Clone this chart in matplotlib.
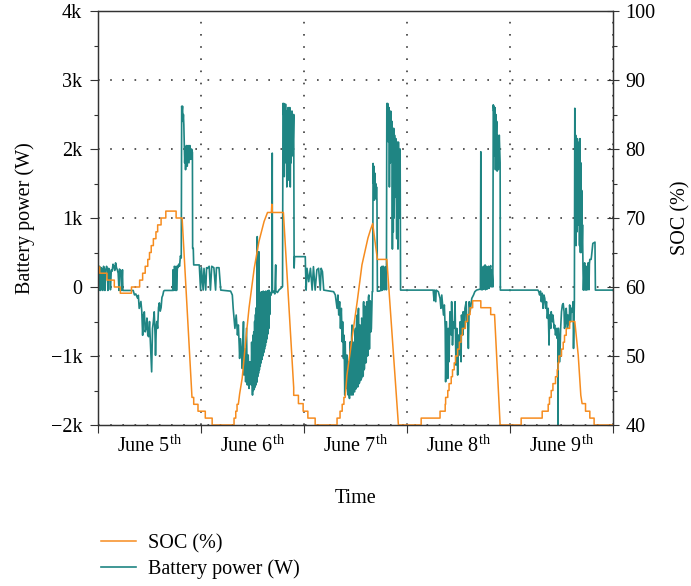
import numpy as np
import matplotlib.pyplot as plt
from matplotlib.ticker import FixedLocator, MultipleLocator, FuncFormatter, NullFormatter

plt.rcParams['font.family'] = ['Liberation Serif', 'DejaVu Serif']
plt.rcParams['mathtext.fontset'] = 'custom'
plt.rcParams['mathtext.rm'] = 'Liberation Serif'
plt.rcParams['font.size'] = 14.5

# time in hours from June 5th 00:00
day_edges = [0, 24, 48, 72, 96, 120]
day_labels = ['June 5$^{\\mathrm{th}}$', 'June 6$^{\\mathrm{th}}$', 'June 7$^{\\mathrm{th}}$',
              'June 8$^{\\mathrm{th}}$', 'June 9$^{\\mathrm{th}}$']

# battery power (h, W)
batt_day1 = [
    (0.0, 250), (0.2, -50), (0.35, 300), (0.5, 250), (0.6, -50), (0.8, 280), (1.0, 230), (1.1, -50),
    (1.3, 300), (1.5, 260), (1.6, -50), (1.8, 240), (2.0, 300), (2.2, 250), (2.3, -50), (2.5, 270),
    (2.7, 220), (2.9, -40), (3.1, 250), (3.3, 230), (3.5, 330), (3.7, 300), (3.9, 240), (4.1, 350),
    (4.3, 280), (4.5, 250), (4.7, 200), (4.9, -50), (5.0, 260), (5.3, 230), (5.5, -50), (5.7, 250),
    (5.8, -50), (8.2, -50), (8.5, -115), (8.8, -100), (9.2, -160), (9.4, -120), (9.6, -310),
    (10.0, -210), (10.2, -350), (10.4, -700), (10.6, -400), (10.8, -360), (11.0, -650), (11.2, -600),
    (11.4, -450), (11.6, -700), (11.8, -720), (12.0, -500), (12.2, -800), (12.5, -1230), (12.7, -600),
    (12.9, -500), (13.1, -360), (13.3, -700), (13.4, -990), (13.6, -550), (13.7, -500), (13.9, -600),
    (14.1, -300), (14.3, -230), (14.5, -350), (14.7, -300), (14.9, -150), (15.1, -120), (15.3, -60),
    (15.5, -50), (17.4, -50), (17.5, 250), (17.6, -50), (17.8, 300), (17.9, 280), (18.0, -50),
    (18.2, 300), (18.3, -50), (18.5, 300), (18.6, 280), (18.8, 330), (19.0, 300), (19.2, 450),
    (19.4, 420), (19.5, 2620), (19.6, 2550), (19.7, 2620), (19.8, 2400), (19.9, 2500), (20.0, 2350),
    (20.1, 2100), (20.2, 1800), (20.3, 2000), (20.4, 1700), (20.6, 2050), (20.8, 1750), (21.0, 2050),
    (21.2, 1800), (21.4, 2050), (21.6, 1850), (21.8, 2000), (22.0, 1950), (22.05, 560), (22.2, 560),
    (22.3, 320), (23.6, 320),
]
batt_day2 = [
    (23.9, -45), (24.1, 280), (24.5, -45), (24.7, 270), (25.1, -45), (25.3, 280), (25.5, 270),
    (25.9, 300), (26.2, -45), (26.5, 300), (27.0, 280), (27.4, -45), (27.6, 280), (28.2, 280),
    (28.6, -45), (30.9, -60), (31.3, -116), (31.5, -309), (31.7, -450), (31.9, -600), (32.2, -406),
    (32.5, -696), (32.7, -550), (32.9, -841), (33.0, -1035), (33.2, -750), (33.5, -986), (33.6, -1180),
    (33.9, -503), (34.0, -1276), (34.3, -900), (34.4, -1373), (34.6, -600), (34.8, -1420), (35.0, -986),
    (35.2, -1470), (35.4, -1083), (35.7, -1420), (35.8, -800), (36.0, -1566), (36.1, -700),
    (36.2, -1500), (36.3, -650), (36.4, -1480), (36.5, -500), (36.6, -1450), (36.7, -400),
    (36.8, -1420), (36.9, -300), (37.0, -1380), (37.1, 730), (37.2, -1300), (37.3, -200),
    (37.4, -1250), (37.5, 510), (37.6, -1200), (37.7, -100), (37.8, -1150), (37.9, -80),
    (38.0, -1100), (38.1, -70), (38.2, -1050), (38.3, -80), (38.4, -1000), (38.5, -60), (38.6, -950),
    (38.7, -70), (38.8, -900), (38.9, -80), (39.0, -850), (39.1, -60), (39.2, -800), (39.3, -70),
    (39.4, -750), (39.5, -60), (39.6, -680), (39.7, -50), (39.8, -600), (39.9, -50), (40.0, -400),
    (40.1, -80), (40.3, -120), (40.5, -60), (40.6, 1940), (40.65, -80), (40.9, -60), (41.2, -100),
    (41.4, 320), (41.45, -60), (41.8, -80), (42.2, -40), (42.6, -20), (43.0, 5), (43.1, 2660),
    (43.2, 2500), (43.3, 2660), (43.4, 1600), (43.5, 2600), (43.6, 1800), (43.7, 2650), (43.8, 2000),
    (43.9, 2550), (44.0, 1450), (44.1, 2450), (44.2, 1700), (44.3, 2600), (44.4, 1550), (44.5, 2500),
    (44.6, 1900), (44.7, 2600), (44.8, 1450), (44.9, 2400), (45.0, 1800), (45.2, 2550), (45.4, 1900),
    (45.6, 2500), (45.7, 275), (45.8, 440), (48.3, 440),
]
batt_day3 = [
    (48.35, 271), (48.5, -45), (48.7, 271), (49.1, 77), (49.5, 271), (49.9, -45), (50.2, 295),
    (50.6, -45), (51.0, 250), (51.4, 271), (51.8, -45), (52.0, 271), (52.3, 222), (52.6, -45),
    (54.9, -68), (55.3, -116), (55.7, -309), (55.9, -116), (56.1, -406), (56.3, -213), (56.5, -600),
    (56.7, -309), (56.9, -793), (57.0, -503), (57.2, -1035), (57.35, -700), (57.5, -1566), (57.6, -793),
    (57.75, -1300), (57.9, -1470), (58.0, -986), (58.15, -1500), (58.3, -1566), (58.4, -1083),
    (58.5, -1550), (58.6, -1615), (58.7, -900), (58.8, -793), (58.9, -1500), (59.0, -1566),
    (59.1, -700), (59.2, -551), (59.3, -1500), (59.4, -1566), (59.5, -800), (59.6, -890),
    (59.7, -1520), (59.8, -1518), (59.9, -650), (60.0, -600), (60.05, -1480), (60.1, -1470),
    (60.25, -500), (60.4, -406), (60.5, -1450), (60.6, -1421), (60.65, -350), (60.7, -309),
    (60.85, -1400), (61.0, -1373), (61.05, -550), (61.1, -600), (61.25, -1350), (61.4, -1325),
    (61.45, -450), (61.5, -503), (61.65, -1300), (61.8, -1276), (61.85, -250), (61.9, -213),
    (62.0, -1200), (62.1, -1180), (62.2, -280), (62.3, -309), (62.4, -1100), (62.5, -1083),
    (62.6, -220), (62.7, -213), (62.8, -1000), (62.9, -986), (63.0, -150), (63.1, -116),
    (63.2, -900), (63.3, -890), (63.4, -200), (63.5, -213), (63.6, -650), (63.7, -600), (63.9, -68),
    (64.0, -68), (64.1, 1790), (64.2, 1500), (64.3, 1750), (64.4, 1260), (64.5, 1650), (64.6, 1300),
    (64.7, 1500), (64.8, 1280), (64.9, 1450), (65.0, 1260), (65.1, -60), (65.5, -60), (65.9, -50),
    (66.0, 290), (66.1, -50), (66.2, 300), (66.3, 250), (66.4, -40), (66.5, 300), (66.7, 260),
    (66.8, -40), (67.0, 290), (67.1, 280), (67.2, -40), (67.3, 2660), (67.4, 2600), (67.5, 2660),
    (67.6, 2640), (67.7, 2100), (67.8, 2600), (67.9, 1450), (68.0, 2400), (68.1, 1800), (68.2, 2550),
    (68.4, 2200), (68.5, 2400), (68.6, 550), (68.7, 2250), (68.8, 800), (68.9, 2300), (69.0, 1000),
    (69.1, 2200), (69.3, 1300), (69.4, 2150), (69.6, 700), (69.7, 2100), (69.9, 550), (70.0, 2100),
    (70.2, 1000), (70.4, 2000), (70.5, -45), (72.0, -45),
]
batt_day4 = [
    (78.1, -45), (78.3, -200), (78.4, -45), (78.7, -213), (78.8, -45), (79.3, -68), (79.7, -164),
    (79.9, -309), (80.1, -116), (80.5, -406), (80.7, -260), (80.9, -600), (81.0, -1373), (81.2, -503),
    (81.5, -1325), (81.6, -600), (81.8, -1083), (82.0, -358), (82.3, -696), (82.4, -213), (82.6, -841),
    (82.8, -503), (83.0, -600), (83.2, -213), (83.4, -1131), (83.6, -600), (83.8, -1276), (84.0, -696),
    (84.2, -986), (84.4, -503), (84.6, -1083), (84.7, -406), (85.0, -696), (85.1, -358), (85.4, -600),
    (85.5, -309), (85.8, -213), (85.9, -503), (86.1, -406), (86.3, -890), (86.5, -213), (86.7, -358),
    (87.1, -164), (87.5, -116), (87.8, -68), (88.2, -45), (89.1, -30), (89.2, 1960), (89.3, -40),
    (89.5, 280), (89.6, -40), (89.8, 300), (89.9, -30), (90.1, 250), (90.2, 320), (90.3, -40),
    (90.5, 300), (90.6, 200), (90.7, -30), (90.9, 280), (91.0, 300), (91.1, -20), (91.3, 260),
    (91.5, 310), (91.6, 0), (91.8, 250), (92.0, 0), (92.1, 2640), (92.2, 2550), (92.3, 2620),
    (92.4, 1900), (92.5, 2600), (92.6, 1700), (92.7, 2500), (92.8, 2100), (92.9, 2400), (93.0, 1680),
    (93.1, 2200), (93.3, 1700), (93.5, 2200), (93.7, 1800), (93.75, -45), (96.0, -45),
]
batt_day5 = [
    (102.5, -45), (102.7, -68), (102.9, -116), (103.1, -60), (103.3, -213), (103.5, -90), (103.7, -309),
    (103.9, -116), (104.1, -164), (104.3, -309), (104.5, -213), (104.7, -455), (104.9, -309),
    (105.1, -841), (105.2, -406), (105.5, -600), (105.6, -358), (105.9, -503), (106.0, -406),
    (106.3, -600), (106.4, -551), (106.6, -696), (106.8, -600), (107.0, -745), (107.15, -600),
    (107.2, -2020), (107.25, -600), (107.3, -600), (107.6, -1083), (107.8, -600), (108.0, -358),
    (108.2, -260), (108.4, -240), (108.6, -358), (108.7, -600), (109.0, -503), (109.1, -309),
    (109.4, -600), (109.5, -406), (109.8, -551), (109.9, -260), (110.1, -503), (110.3, -309),
    (110.5, -358), (110.7, -213), (110.8, -890), (111.0, -213), (111.1, 2590), (111.2, 1900),
    (111.3, 2200), (111.4, 600), (111.5, 2100), (111.6, 800), (111.7, 2150), (111.8, 1200),
    (111.9, 2000), (112.0, 900), (112.1, 2100), (112.2, 600), (112.3, 2150), (112.4, 500),
    (112.5, 1800), (112.6, 500), (112.7, 1400), (112.8, 600), (112.9, 900), (113.0, 295),
    (113.1, -45), (113.3, 295), (113.4, 350), (113.5, -45), (113.7, 300), (113.8, 250), (113.9, -45),
    (114.1, 300), (114.2, 350), (114.4, -40), (114.5, 330), (114.6, 400), (114.9, 400), (115.0, 450),
    (115.3, 632), (115.8, 650), (115.9, -45), (120.0, -45),
]

# state of charge (h, %)
soc_day1 = [
    (0.0, 62.9), (0.4, 62.9), (0.4, 62.0), (2.1, 62.0), (2.1, 61.0), (3.8, 61.0), (3.8, 60.0),
    (5.2, 60.0), (5.2, 59.1), (7.8, 59.1), (7.8, 60.0), (9.7, 60.0), (9.7, 61.0), (10.4, 61.0),
    (10.4, 62.0), (11.0, 62.0), (11.0, 63.0), (11.6, 63.0), (11.6, 64.0), (12.0, 64.0), (12.0, 65.0),
    (12.4, 65.0), (12.4, 66.0), (12.9, 66.0), (12.9, 67.0), (13.5, 67.0), (13.5, 68.0), (13.9, 68.0),
    (13.9, 69.0), (14.7, 69.0), (14.7, 70.0), (15.8, 70.0), (15.8, 71.0), (18.2, 71.0), (18.2, 70.0),
    (19.6, 70.0), (21.9, 44.0), (22.3, 44.0), (22.3, 43.0), (23.3, 43.0), (23.3, 42.0), (25.0, 42.0),
    (25.0, 41.0), (26.6, 41.0), (26.6, 40.0),
]
soc_day2 = [
    (31.7, 40.0), (31.7, 41.0), (32.1, 41.0), (32.1, 42.0), (32.4, 42.0), (32.4, 43.0), (32.7, 43.0),
    (33.0, 44.5), (33.6, 46.8), (34.4, 52.1), (35.2, 57.0), (36.4, 62.7), (37.5, 66.6), (38.7, 69.5),
    (39.5, 70.8), (40.4, 70.8), (40.5, 72.0), (40.6, 70.8), (43.2, 70.8), (45.6, 45.4), (45.6, 44.3),
    (46.7, 44.3), (46.7, 43.1), (47.8, 43.1), (47.8, 42.0), (48.9, 42.0), (48.9, 41.0), (50.6, 41.0),
    (50.6, 40.0),
]
soc_day3 = [
    (55.7, 40.0), (55.7, 41.0), (56.4, 41.0), (56.4, 42.0), (56.9, 42.0), (56.9, 43.0), (57.3, 43.0),
    (57.3, 44.0), (57.6, 44.0), (58.0, 47.2), (59.2, 52.6), (60.4, 57.9), (61.5, 63.2), (62.3, 65.4),
    (62.9, 67.1), (63.5, 68.3), (63.9, 69.0), (64.0, 69.2), (65.1, 64.0), (67.3, 64.0), (70.0, 40.0),
]
soc_day4 = [
    (75.3, 40.0), (75.3, 41.0), (79.7, 41.0), (79.7, 42.0), (80.9, 42.0), (80.9, 43.0), (81.0, 43.0),
    (81.0, 44.0), (81.5, 44.0), (81.5, 45.0), (81.8, 45.0), (81.8, 46.0), (82.3, 46.0), (82.3, 47.0),
    (82.6, 47.0), (82.6, 48.0), (83.0, 48.0), (83.0, 49.0), (83.3, 49.0), (83.3, 50.0), (83.8, 50.0),
    (83.8, 51.0), (84.2, 51.0), (84.2, 52.0), (84.6, 52.0), (84.6, 53.0), (84.9, 53.0), (84.9, 54.0),
    (85.6, 54.0), (85.6, 55.0), (86.1, 55.0), (86.1, 56.0), (86.7, 56.0), (86.7, 57.0), (87.3, 57.0),
    (87.3, 58.0), (89.2, 58.0), (89.2, 57.0), (91.5, 57.0), (91.5, 56.0), (92.4, 56.0), (93.7, 40.0),
]
soc_day5 = [
    (98.6, 40.0), (98.6, 41.0), (103.5, 41.0), (103.5, 42.0), (104.9, 42.0), (104.9, 43.0),
    (105.2, 43.0), (105.2, 44.0), (105.6, 44.0), (105.6, 45.0), (106.0, 45.0), (106.0, 46.0),
    (106.6, 46.0), (106.6, 47.0), (107.0, 47.0), (107.0, 48.0), (107.2, 48.0), (107.2, 49.0),
    (107.4, 49.0), (107.4, 50.0), (108.0, 50.0), (108.0, 51.0), (108.4, 51.0), (108.4, 52.0),
    (108.7, 52.0), (108.7, 53.0), (109.1, 53.0), (109.1, 54.0), (109.9, 54.0), (109.9, 55.0),
    (111.1, 55.0), (111.9, 50.1), (112.5, 44.3), (112.8, 43.1), (113.6, 43.1), (113.6, 42.0),
    (114.6, 42.0), (114.6, 41.0), (115.6, 41.0), (115.6, 40.0), (120.0, 40.0),
]

teal = '#1f8583'
orange = '#f68c1f'
grid_col = '#3c3c3c'

bt, bw = np.array(batt_day1 + batt_day2 + batt_day3 + batt_day4 + batt_day5).T
st, sv = np.array(soc_day1 + soc_day2 + soc_day3 + soc_day4 + soc_day5).T

fig = plt.figure(figsize=(6.91, 5.86), dpi=100)
ax = fig.add_axes([98 / 691, 1 - 425 / 586, 515 / 691, 414 / 586])
ax2 = ax.twinx()

ax.plot(bt, bw, color=teal, lw=1.2, label='Battery power (W)')
ax2.plot(st, sv, color=orange, lw=1.1, label='SOC (%)')

ax.set_xlim(0, 120)
ax.set_ylim(-2000, 4000)
ax2.set_ylim(40, 100)

ax.xaxis.set_major_locator(FixedLocator(day_edges))
ax.xaxis.set_major_formatter(NullFormatter())
ax.xaxis.set_minor_locator(FixedLocator([12, 36, 60, 84, 108]))
ax.set_xticklabels(day_labels, minor=True)
ax.tick_params(axis='x', which='major', direction='out', length=5.5, width=0.8, color='#333333')
ax.tick_params(axis='x', which='minor', length=0, pad=7)

ax.yaxis.set_major_locator(MultipleLocator(1000))
ax.yaxis.set_minor_locator(MultipleLocator(500))
ax.yaxis.set_major_formatter(FuncFormatter(
    lambda v, p: '0' if v == 0 else ('\u2212' if v < 0 else '') + '%dk' % abs(round(v / 1000))))
ax.tick_params(axis='y', which='major', direction='out', length=5.5, width=0.8, pad=6, color='#333333')
ax.tick_params(axis='y', which='minor', direction='out', length=3, width=0.8, color='#333333')

ax2.yaxis.set_major_locator(MultipleLocator(10))
ax2.yaxis.set_minor_locator(MultipleLocator(5))
ax2.tick_params(axis='y', which='major', direction='inout', length=8, width=0.8, pad=5, color='#333333')
ax2.tick_params(axis='y', which='minor', direction='out', length=3, width=0.8, color='#333333')

ax.grid(True, which='major', color=grid_col, linestyle=(0, (1, 6.3)), linewidth=1.2)
ax.set_axisbelow(True)

for a in (ax, ax2):
    for s in a.spines.values():
        s.set_color('#333333')
        s.set_linewidth(0.9)

ax.set_ylabel('Battery power (W)', labelpad=11)
ax2.set_ylabel('SOC (%)', labelpad=11)
ax.set_xlabel('Time', labelpad=23)

h1, l1 = ax.get_legend_handles_labels()
h2, l2 = ax2.get_legend_handles_labels()
fig.legend(h2 + h1, l2 + l1, loc='upper left', bbox_to_anchor=(83 / 691, 1 - 516 / 586),
           frameon=False, handlelength=1.75, handletextpad=0.6, labelspacing=0.3)

fig.savefig('out.png', dpi=100)
